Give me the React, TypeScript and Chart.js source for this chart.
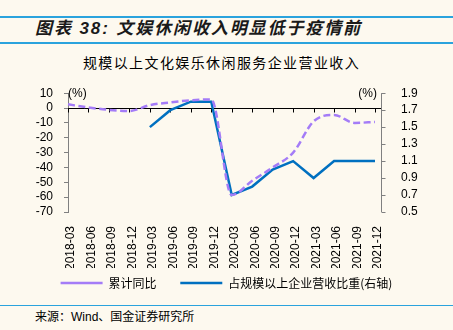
import React, { useEffect, useRef } from "react";
import { Chart, registerables } from "chart.js";

Chart.register(...registerables);

// ---- data ----
const categories = [
  "2018-03", "2018-06", "2018-09", "2018-12",
  "2019-03", "2019-06", "2019-09", "2019-12",
  "2020-03", "2020-06", "2020-09", "2020-12",
  "2021-03", "2021-06", "2021-09", "2021-12",
];
// 累计同比 (%), left axis
const cumulativeYoY = [2.5, 0.4, -1.2, -2, 2, 3.8, 5.2, 5.8, -58.6, -49, -40, -30, -9, -4.6, -10, -9.4];
// 占规模以上企业营收比重 (%), right axis
const revenueShare = [null, null, null, null, 1.5, 1.7, 1.8, 1.8, 0.7, 0.8, 1.0, 1.1, 0.9, 1.1, 1.1, 1.1];
const leftAxisRange = [-70, 10];
const leftAxisStep = 10;
const rightAxisRange = [0.5, 1.9];
const rightAxisStep = 0.2;
const seriesNames = ["累计同比", "占规模以上企业营收比重(右轴)"];

const BG = "#FDF9EF";
const PURPLE = "#A47CF7";
const BLUE = "#0070C0";
const AXIS = "#808080";
const LINE_BLUE = "#2AA3DD";

const axisDecor = {
  id: "axisDecor",
  beforeDatasetsDraw(chart: any) {
    const { ctx, chartArea, scales } = chart;
    const x = scales.x;
    const y = scales.y;
    const y1 = scales.y1;
    const rightX = Math.round(chartArea.right + 6) + 0.5;
    ctx.save();
    // zero line with category tick marks
    const y0 = Math.round(y.getPixelForValue(0)) + 0.5;
    ctx.strokeStyle = "#000";
    ctx.lineWidth = 1;
    ctx.beginPath();
    ctx.moveTo(chartArea.left, y0);
    ctx.lineTo(rightX, y0);
    x.ticks.forEach((_t: any, i: number) => {
      const px = Math.round(x.getPixelForTick(i)) + 0.5;
      ctx.moveTo(px, y0);
      ctx.lineTo(px, y0 + 4);
    });
    ctx.stroke();
    // right axis line + ticks
    ctx.strokeStyle = AXIS;
    ctx.beginPath();
    ctx.moveTo(rightX, chartArea.top);
    ctx.lineTo(rightX, chartArea.bottom);
    y1.ticks.forEach((t: any) => {
      const py = Math.round(y1.getPixelForValue(t.value)) + 0.5;
      ctx.moveTo(rightX, py);
      ctx.lineTo(rightX + 4, py);
    });
    ctx.stroke();
    // unit labels
    ctx.fillStyle = "#000";
    ctx.font = '12px "Liberation Sans", Arial, sans-serif';
    ctx.textBaseline = "middle";
    ctx.textAlign = "left";
    ctx.fillText("(%)", chartArea.left, chartArea.top);
    ctx.textAlign = "right";
    ctx.fillText("(%)", chartArea.right + 2, chartArea.top);
    ctx.restore();
  },
};

export default function App() {
  const canvasRef = useRef<HTMLCanvasElement | null>(null);

  useEffect(() => {
    document.body.style.margin = "0";
    document.body.style.background = BG;
    const canvas = canvasRef.current;
    if (!canvas) return;
    const tickFont = { family: '"Liberation Sans", Arial, sans-serif', size: 12 };
    const chart = new Chart(canvas, {
      type: "line",
      data: {
        labels: categories,
        datasets: [
          {
            label: seriesNames[0],
            data: cumulativeYoY,
            yAxisID: "y",
            borderColor: PURPLE,
            backgroundColor: PURPLE,
            borderWidth: 2.5,
            borderDash: [7, 3.5],
            pointRadius: 0,
            cubicInterpolationMode: "monotone",
          },
          {
            label: seriesNames[1],
            data: revenueShare,
            yAxisID: "y1",
            borderColor: BLUE,
            backgroundColor: BLUE,
            borderWidth: 2.5,
            pointRadius: 0,
            tension: 0,
          },
        ],
      },
      options: {
        responsive: false,
        animation: false,
        layout: { padding: { top: 16, left: 0, right: 0, bottom: 0 } },
        plugins: {
          tooltip: { enabled: false },
          legend: {
            position: "bottom",
            labels: {
              usePointStyle: true,
              pointStyle: "line",
              pointStyleWidth: 42,
              padding: 9,
              color: "#000",
              font: { family: '"Noto Sans CJK SC", sans-serif', size: 12 },
              generateLabels: (c: any) => {
                const items = (Chart as any).defaults.plugins.legend.labels.generateLabels(c);
                if (items[0]) items[0].text = items[0].text + "\u3000 ";
                return items;
              },
            },
          },
        },
        scales: {
          x: {
            grid: { display: false },
            border: { display: false },
            ticks: {
              autoSkip: false,
              maxRotation: 90,
              minRotation: 90,
              labelOffset: 3,
              padding: 6,
              color: "#000",
              font: tickFont,
            },
            afterFit: (s: any) => {
              s.height = 56;
            },
          },
          y: {
            position: "left",
            min: leftAxisRange[0],
            max: leftAxisRange[1],
            grid: { drawOnChartArea: false, drawTicks: true, tickLength: 4, color: AXIS },
            border: { display: true, color: AXIS },
            ticks: { autoSkip: false, stepSize: leftAxisStep, padding: 11, color: "#000", font: tickFont },
            afterFit: (s: any) => {
              s.width = 68;
            },
          },
          y1: {
            position: "right",
            min: rightAxisRange[0],
            max: rightAxisRange[1],
            grid: { display: false },
            border: { display: false },
            ticks: {
              autoSkip: false,
              stepSize: rightAxisStep,
              padding: 18,
              color: "#000",
              font: tickFont,
              callback: (v: any) => Number(v).toFixed(1),
            },
            afterFit: (s: any) => {
              s.width = 78;
            },
          },
        },
      },
      plugins: [axisDecor],
    } as any);
    return () => chart.destroy();
  }, []);

  return (
    <div style={{ position: "relative", width: 453, height: 330, background: BG, overflow: "hidden" }}>
      <div style={{ position: "absolute", left: 0, top: 16, width: 453, height: 1.5, background: LINE_BLUE }} />
      <div
        style={{
          position: "absolute",
          left: 35,
          top: 18,
          lineHeight: "22px",
          fontFamily: '"Liberation Sans", "Noto Sans CJK SC", sans-serif',
          fontWeight: "bold",
          fontStyle: "italic",
          fontSize: 17,
          letterSpacing: 1.9,
          color: "#1a1a1a",
          whiteSpace: "nowrap",
        }}
      >
        图表 38: 文娱休闲收入明显低于疫情前
      </div>
      <div style={{ position: "absolute", left: 0, top: 42, width: 453, height: 1.5, background: LINE_BLUE }} />
      <div
        style={{
          position: "absolute",
          left: 0,
          top: 52,
          width: 443,
          textAlign: "center",
          lineHeight: "20px",
          fontFamily: '"Noto Sans CJK SC", sans-serif',
          fontSize: 14,
          letterSpacing: 1.4,
          color: "#000",
          whiteSpace: "nowrap",
        }}
      >
        规模以上文化娱乐休闲服务企业营业收入
      </div>
      <canvas
        ref={canvasRef}
        width={453}
        height={231}
        style={{ position: "absolute", left: 0, top: 68, width: 453, height: 231, display: "block" }}
      />
      <div style={{ position: "absolute", left: 0, top: 304.5, width: 453, height: 1.5, background: LINE_BLUE }} />
      <div
        style={{
          position: "absolute",
          left: 35,
          top: 308,
          lineHeight: "18px",
          fontFamily: '"Liberation Sans", "Noto Sans CJK SC", sans-serif',
          fontSize: 12,
          color: "#000",
          whiteSpace: "nowrap",
        }}
      >
        来源：Wind、国金证券研究所
      </div>
    </div>
  );
}
